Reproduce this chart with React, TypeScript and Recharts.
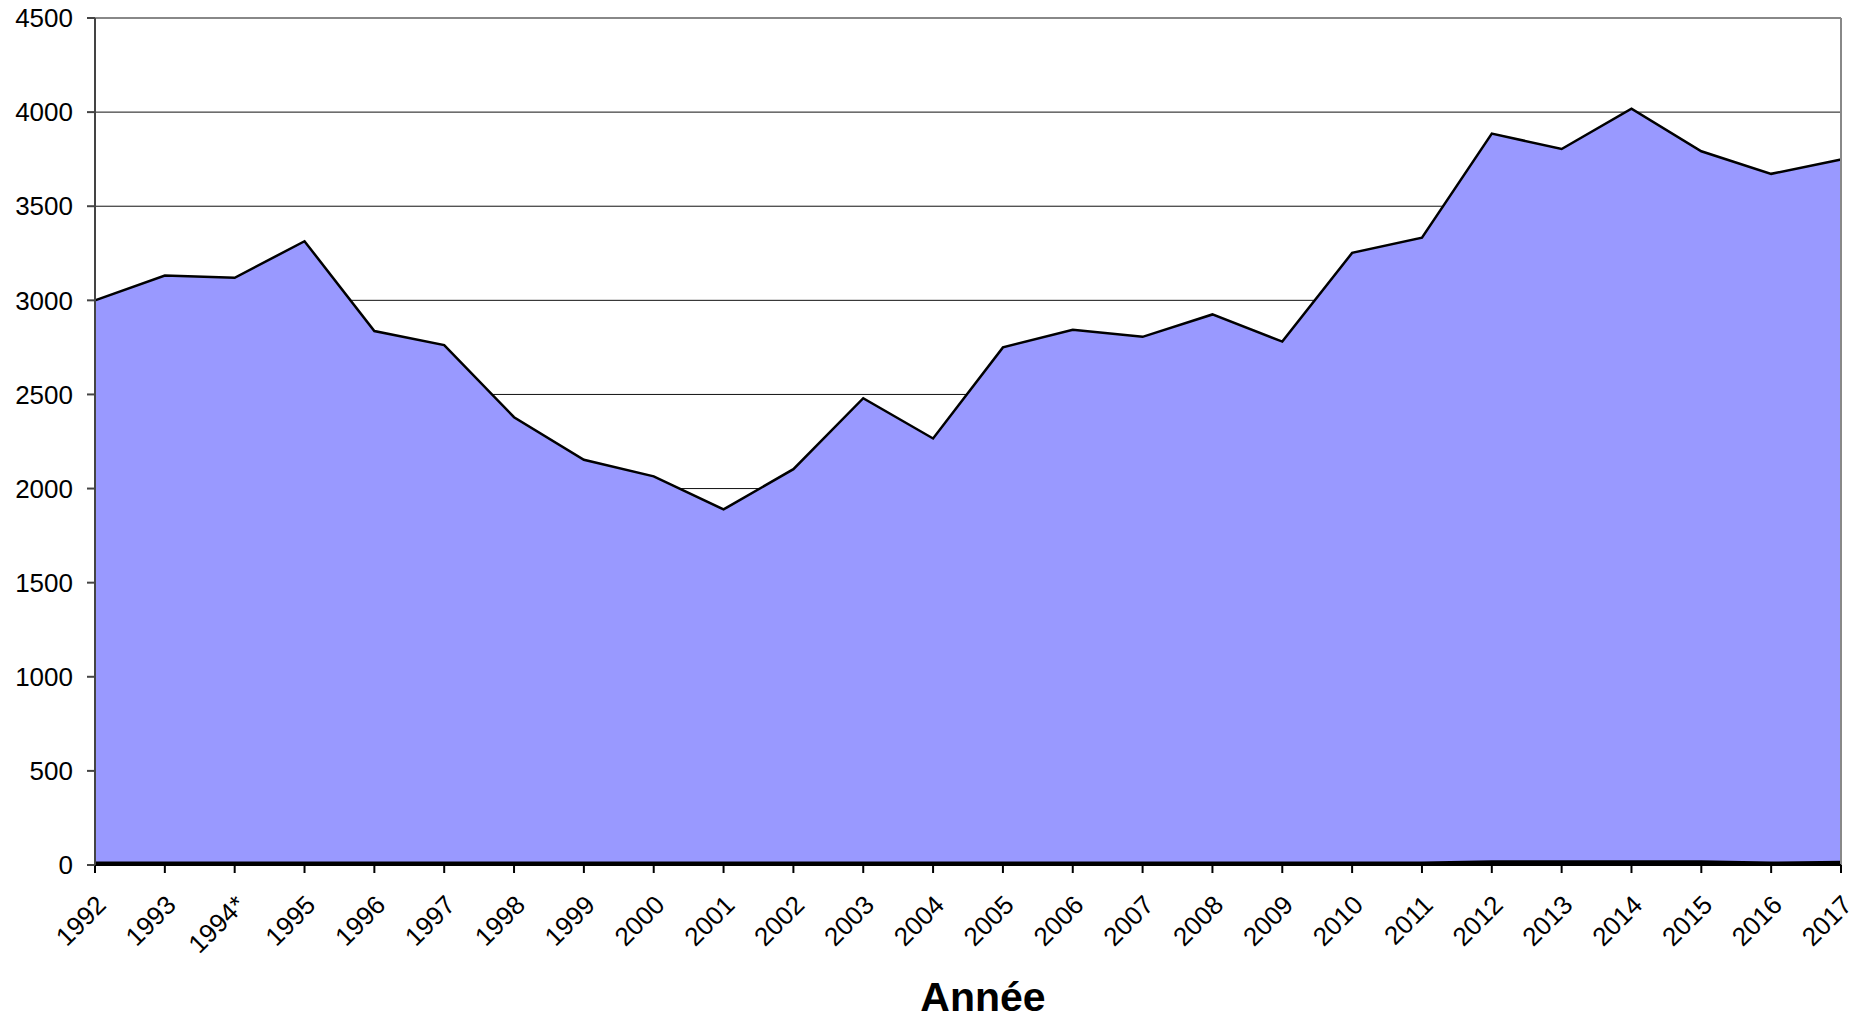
import { AreaChart, Area, XAxis, YAxis, CartesianGrid, ReferenceLine, Label } from 'recharts'

const annees = [
  '1992', '1993', '1994*', '1995', '1996', '1997', '1998', '1999', '2000', '2001', '2002', '2003', '2004',
  '2005', '2006', '2007', '2008', '2009', '2010', '2011', '2012', '2013', '2014', '2015', '2016', '2017',
]

// petite série du bas (presque nulle)
const serieBas = [18, 18, 18, 18, 18, 18, 18, 18, 18, 18, 18, 18, 18, 18, 18, 18, 18, 18, 18, 18, 25, 25, 25, 25, 18, 22]

// série principale (empilée au-dessus)
const serieHaut = [
  2982, 3114, 3102, 3296, 2819, 2744, 2361, 2135, 2047, 1871, 2085, 2462, 2248,
  2732, 2826, 2788, 2907, 2763, 3234, 3315, 3861, 3779, 3993, 3767, 3654, 3726,
]

const graduationsY = [0, 500, 1000, 1500, 2000, 2500, 3000, 3500, 4000, 4500]

const donnees = annees.map((a, i) => ({ annee: a, bas: serieBas[i], haut: serieHaut[i] }))

const police = '"Liberation Sans", Arial, sans-serif'

function TickAnnee({ x, y, payload }: any) {
  const ax = x - 1
  const ay = y + 18
  return (
    <text
      x={ax}
      y={ay}
      transform={`rotate(-45 ${ax} ${ay})`}
      textAnchor="end"
      dominantBaseline="hanging"
      fontFamily={police}
      fontSize={26}
      fill="#000"
    >
      {payload.value}
    </text>
  )
}

function TitreAxe({ viewBox }: any) {
  const { x, width } = viewBox
  return (
    <text
      x={x + width / 2 + 15}
      y={1011}
      textAnchor="middle"
      fontFamily={police}
      fontSize={41}
      fontWeight="bold"
      fill="#000"
    >
      Année
    </text>
  )
}

export default function App() {
  return (
    <div style={{ position: 'fixed', left: 0, top: 0, width: 1856, height: 1018, overflow: 'hidden', background: '#fff' }}>
      <AreaChart width={1856} height={1018} data={donnees} margin={{ top: 18, right: 15, left: 0, bottom: 0 }}>
        <CartesianGrid horizontal vertical={false} stroke="#111" strokeWidth={1} />
        <XAxis
          dataKey="annee"
          interval={0}
          height={153}
          tick={<TickAnnee />}
          tickSize={8}
          axisLine={{ stroke: '#000', strokeWidth: 2 }}
          tickLine={{ stroke: '#000', strokeWidth: 2 }}
        >
          <Label content={<TitreAxe />} />
        </XAxis>
        <YAxis
          domain={[0, 4500]}
          ticks={graduationsY}
          width={95}
          tickSize={8}
          tickMargin={14}
          tick={{ fontFamily: police, fontSize: 26, fill: '#000' }}
          axisLine={{ stroke: '#444', strokeWidth: 2 }}
          tickLine={{ stroke: '#444', strokeWidth: 2 }}
        />
        <ReferenceLine y={4500} stroke="#888" strokeWidth={2} />
        <ReferenceLine x="2017" stroke="#888" strokeWidth={2} />
        <Area
          type="linear"
          dataKey="bas"
          stackId="1"
          stroke="#000"
          strokeWidth={2.5}
          fill="#000"
          fillOpacity={1}
          isAnimationActive={false}
        />
        <Area
          type="linear"
          dataKey="haut"
          stackId="1"
          stroke="#000"
          strokeWidth={2.5}
          fill="#9999ff"
          fillOpacity={1}
          isAnimationActive={false}
        />
      </AreaChart>
    </div>
  )
}
